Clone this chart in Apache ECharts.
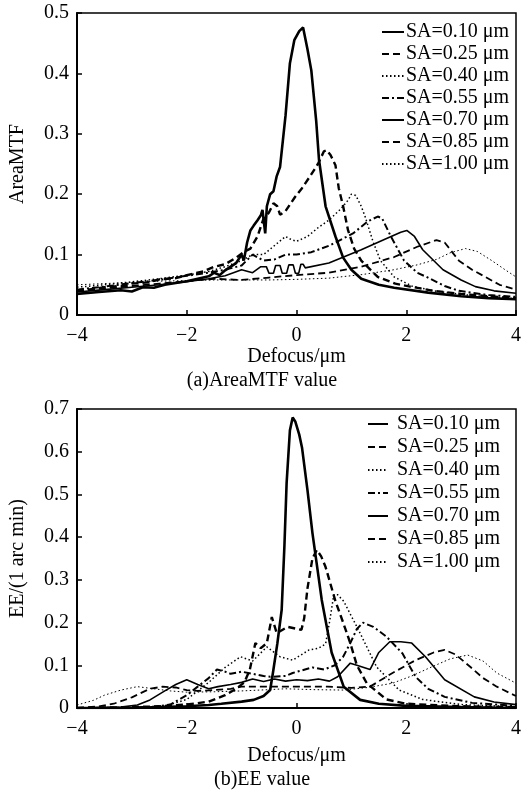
<!DOCTYPE html>
<html>
<head>
<meta charset="utf-8">
<script src="https://cdn.jsdelivr.net/npm/echarts@6/dist/echarts.min.js"></script>
<style>html,body{margin:0;padding:0;background:#fff}#c{width:524px;height:793px}</style>
</head>
<body>
<div id="c"></div>
<script>
const seriesNames = ['SA=0.10 μm','SA=0.25 μm','SA=0.40 μm','SA=0.55 μm','SA=0.70 μm','SA=0.85 μm','SA=1.00 μm'];
const xTicks = [-4,-2,0,2,4];
const mtfTicks = [0,0.1,0.2,0.3,0.4,0.5];
const eeTicks = [0,0.1,0.2,0.3,0.4,0.5,0.6,0.7];

// (a) AreaMTF curves [defocus, value]
const mtf_sa010 = [[-4,0.035],[-3.6,0.038],[-3.2,0.041],[-3.0,0.039],[-2.8,0.046],[-2.6,0.045],[-2.4,0.05],[-2.2,0.053],[-2.0,0.056],[-1.8,0.06],[-1.6,0.064],[-1.5,0.07],[-1.4,0.066],[-1.3,0.074],[-1.2,0.08],[-1.1,0.086],[-1.0,0.1],[-0.96,0.09],[-0.9,0.12],[-0.84,0.14],[-0.78,0.148],[-0.71,0.157],[-0.65,0.165],[-0.62,0.174],[-0.57,0.135],[-0.54,0.18],[-0.48,0.2],[-0.42,0.205],[-0.36,0.23],[-0.3,0.245],[-0.2,0.33],[-0.12,0.417],[-0.04,0.455],[0.05,0.47],[0.12,0.476],[0.2,0.44],[0.27,0.405],[0.36,0.32],[0.41,0.257],[0.53,0.18],[0.71,0.13],[0.85,0.095],[1.0,0.075],[1.18,0.06],[1.5,0.05],[1.78,0.045],[2.4,0.037],[3.0,0.031],[3.5,0.028],[4,0.026]];
const mtf_sa025 = [[-4,0.04],[-3.7,0.043],[-3.5,0.046],[-3.2,0.048],[-3.0,0.052],[-2.7,0.054],[-2.5,0.059],[-2.2,0.061],[-2.0,0.066],[-1.7,0.072],[-1.5,0.08],[-1.3,0.084],[-1.1,0.095],[-0.95,0.105],[-0.84,0.11],[-0.71,0.13],[-0.6,0.16],[-0.5,0.17],[-0.42,0.185],[-0.35,0.18],[-0.3,0.166],[-0.2,0.172],[-0.03,0.195],[0.1,0.21],[0.25,0.23],[0.39,0.25],[0.5,0.271],[0.55,0.273],[0.62,0.265],[0.71,0.248],[0.77,0.21],[0.85,0.18],[0.94,0.14],[1.05,0.11],[1.18,0.09],[1.48,0.063],[1.8,0.052],[2.07,0.047],[2.5,0.04],[3,0.035],[3.5,0.031],[4,0.028]];
const mtf_sa040 = [[-4,0.046],[-3.5,0.05],[-3,0.055],[-2.5,0.06],[-2,0.066],[-1.6,0.072],[-1.3,0.08],[-1.0,0.09],[-0.8,0.1],[-0.6,0.1],[-0.4,0.115],[-0.2,0.13],[-0.1,0.125],[0,0.122],[0.2,0.13],[0.4,0.145],[0.59,0.157],[0.8,0.175],[0.94,0.19],[1.0,0.2],[1.08,0.198],[1.18,0.18],[1.25,0.163],[1.4,0.12],[1.53,0.09],[1.78,0.063],[2.1,0.048],[2.5,0.04],[3,0.034],[3.5,0.03],[4,0.027]];
const mtf_sa055 = [[-4,0.042],[-3.5,0.047],[-3,0.053],[-2.5,0.058],[-2,0.065],[-1.6,0.07],[-1.3,0.075],[-1.0,0.082],[-0.8,0.1],[-0.6,0.09],[-0.4,0.092],[-0.2,0.1],[0,0.1],[0.27,0.104],[0.6,0.115],[1.03,0.135],[1.3,0.155],[1.48,0.163],[1.56,0.16],[1.72,0.13],[1.96,0.09],[2.2,0.07],[2.37,0.063],[2.7,0.048],[2.96,0.04],[3.5,0.033],[4,0.03]];
const mtf_sa070 = [[-4,0.038],[-3.5,0.042],[-3,0.046],[-2.5,0.05],[-2,0.055],[-1.6,0.06],[-1.3,0.065],[-1.0,0.075],[-0.8,0.07],[-0.65,0.08],[-0.55,0.08],[-0.5,0.069],[-0.42,0.069],[-0.38,0.082],[-0.3,0.082],[-0.26,0.069],[-0.18,0.069],[-0.14,0.083],[-0.06,0.083],[-0.02,0.069],[0.04,0.069],[0.08,0.084],[0.12,0.084],[0.16,0.078],[0.59,0.086],[1.18,0.108],[1.6,0.125],[1.9,0.137],[2.01,0.14],[2.15,0.13],[2.3,0.108],[2.67,0.075],[3.0,0.058],[3.26,0.047],[3.6,0.04],[4,0.036]];
const mtf_sa085 = [[-4,0.04],[-3.5,0.044],[-3,0.048],[-2.5,0.052],[-2,0.056],[-1.5,0.06],[-1.0,0.058],[-0.5,0.062],[0,0.066],[0.59,0.07],[1.18,0.08],[1.78,0.096],[2.2,0.113],[2.55,0.124],[2.7,0.12],[2.96,0.09],[3.2,0.075],[3.44,0.063],[3.7,0.05],[4,0.042]];
const mtf_sa100 = [[-4,0.05],[-3.5,0.052],[-3,0.054],[-2.5,0.056],[-2,0.057],[-1.5,0.058],[-1,0.058],[-0.5,0.058],[0,0.059],[0.59,0.061],[1.2,0.067],[1.78,0.075],[2.2,0.083],[2.55,0.092],[2.8,0.103],[3.08,0.11],[3.3,0.105],[3.56,0.09],[3.8,0.075],[4,0.063]];

// (b) EE curves [defocus, value]
const ee_sa010 = [[-4,0],[-3,0],[-2.5,0.002],[-2,0.004],[-1.6,0.007],[-1.37,0.01],[-1.0,0.015],[-0.78,0.019],[-0.6,0.028],[-0.48,0.042],[-0.43,0.082],[-0.35,0.15],[-0.27,0.23],[-0.22,0.38],[-0.18,0.527],[-0.12,0.65],[-0.07,0.68],[-0.02,0.67],[0.05,0.64],[0.1,0.61],[0.2,0.51],[0.29,0.41],[0.46,0.253],[0.64,0.13],[0.86,0.05],[1.16,0.019],[1.5,0.01],[2,0.005],[3,0.002],[4,0]];
const ee_sa025 = [[-4,0],[-3,0.002],[-2.5,0.004],[-2,0.008],[-1.6,0.015],[-1.3,0.03],[-1.1,0.045],[-0.95,0.06],[-0.85,0.09],[-0.75,0.152],[-0.65,0.14],[-0.54,0.152],[-0.45,0.213],[-0.36,0.175],[-0.16,0.19],[0.09,0.183],[0.14,0.21],[0.2,0.28],[0.29,0.35],[0.37,0.37],[0.45,0.355],[0.53,0.33],[0.71,0.25],[0.85,0.2],[0.98,0.152],[1.1,0.1],[1.28,0.058],[1.64,0.02],[2,0.01],[3,0.004],[4,0.002]];
const ee_sa040 = [[-4,0],[-3,0.001],[-2.44,0.003],[-2,0.02],[-1.6,0.06],[-1.3,0.095],[-1.02,0.12],[-0.8,0.11],[-0.54,0.143],[-0.3,0.12],[-0.07,0.112],[0.23,0.136],[0.4,0.14],[0.53,0.15],[0.6,0.2],[0.68,0.265],[0.75,0.265],[0.86,0.25],[1.16,0.175],[1.46,0.096],[1.87,0.042],[2.3,0.02],[3,0.008],[4,0.003]];
const ee_sa055 = [[-4,0],[-3,0.001],[-2.6,0.003],[-2.3,0.008],[-2,0.03],[-1.8,0.05],[-1.6,0.07],[-1.45,0.09],[-1.3,0.085],[-1.2,0.08],[-1.0,0.085],[-0.8,0.08],[-0.6,0.075],[-0.48,0.073],[-0.2,0.075],[-0.07,0.082],[0.29,0.095],[0.5,0.09],[0.7,0.1],[0.85,0.12],[0.98,0.152],[1.1,0.185],[1.21,0.2],[1.4,0.19],[1.64,0.167],[1.93,0.128],[2.17,0.073],[2.4,0.045],[2.7,0.026],[3.2,0.012],[4,0.005]];
const ee_sa070 = [[-4,0],[-3.2,0.002],[-2.9,0.007],[-2.67,0.019],[-2.4,0.04],[-2.2,0.055],[-2.0,0.066],[-1.8,0.055],[-1.6,0.045],[-1.43,0.05],[-1.2,0.055],[-1.0,0.06],[-0.8,0.068],[-0.6,0.062],[-0.4,0.068],[-0.2,0.063],[0,0.066],[0.2,0.064],[0.4,0.068],[0.6,0.063],[0.75,0.073],[0.98,0.105],[1.1,0.1],[1.34,0.09],[1.5,0.13],[1.7,0.155],[1.9,0.155],[2.1,0.152],[2.35,0.12],[2.7,0.066],[3.24,0.026],[3.6,0.014],[4,0.008]];
const ee_sa085 = [[-4,0],[-3.6,0.004],[-3.33,0.01],[-3,0.025],[-2.67,0.045],[-2.44,0.05],[-2.2,0.048],[-2,0.042],[-1.8,0.04],[-1.5,0.042],[-1.2,0.045],[-1,0.05],[-0.5,0.05],[0,0.05],[0.57,0.05],[1.0,0.047],[1.34,0.05],[1.75,0.082],[2.17,0.112],[2.5,0.13],[2.7,0.136],[2.9,0.125],[3.17,0.096],[3.4,0.07],[3.65,0.05],[4,0.028]];
const ee_sa100 = [[-4,0.007],[-3.7,0.018],[-3.5,0.03],[-3.2,0.042],[-2.9,0.05],[-2.6,0.045],[-2.3,0.04],[-2,0.037],[-1.5,0.038],[-1,0.04],[-0.5,0.043],[-0.2,0.045],[0.3,0.043],[0.86,0.042],[1.3,0.048],[1.75,0.058],[2.1,0.075],[2.46,0.096],[2.8,0.115],[3.12,0.124],[3.4,0.11],[3.65,0.082],[4,0.058]];

const mtfData = [mtf_sa010, mtf_sa025, mtf_sa040, mtf_sa055, mtf_sa070, mtf_sa085, mtf_sa100];
const eeData = [ee_sa010, ee_sa025, ee_sa040, ee_sa055, ee_sa070, ee_sa085, ee_sa100];

const styles = [
  {width:2.6, type:'solid'},
  {width:2.4, type:[7,4]},
  {width:1.5, type:[1.5,2.5]},
  {width:2.0, type:[7,3,2,3]},
  {width:1.6, type:'solid'},
  {width:1.8, type:[7,4]},
  {width:1.0, type:[1.5,2.5]}
];

const FONT = '"Liberation Serif", "DejaVu Serif", serif';
const FS = 20;
const minus = v => String(v).replace('-', '\u2212');

function xAxis(gi, gap) {
  return {
    type:'value', gridIndex:gi, min:-4, max:4, interval:2,
    name:'Defocus/μm', nameLocation:'middle', nameGap:gap,
    nameTextStyle:{fontFamily:FONT, fontSize:FS, color:'#000'},
    axisLine:{onZero:false, lineStyle:{color:'#000', width:2}},
    axisTick:{inside:true, length:5, lineStyle:{color:'#000', width:1.5}},
    axisLabel:{fontFamily:FONT, fontSize:FS, color:'#000', margin:11, formatter:minus},
    splitLine:{show:false}
  };
}
function yAxis(gi, max, name) {
  return {
    type:'value', gridIndex:gi, min:0, max:max, interval:0.1,
    name:name, nameLocation:'middle', nameGap:49, nameRotate:90,
    nameTextStyle:{fontFamily:FONT, fontSize:FS, color:'#000'},
    axisLine:{onZero:false, lineStyle:{color:'#000', width:2}},
    axisTick:{inside:true, length:5, lineStyle:{color:'#000', width:1.5}},
    axisLabel:{fontFamily:FONT, fontSize:FS, color:'#000', margin:8,
      formatter: v => (Math.round(v*10)/10).toString()},
    splitLine:{show:false}
  };
}

const series = [];
seriesNames.forEach((n,i) => {
  series.push({name:n, type:'line', xAxisIndex:0, yAxisIndex:0, data:mtfData[i], showSymbol:false, symbol:'none',
    lineStyle:{color:'#000', width:styles[i].width, type:styles[i].type}, itemStyle:{color:'#000'}, animation:false, z:10-i});
  series.push({name:n, type:'line', xAxisIndex:1, yAxisIndex:1, data:eeData[i], showSymbol:false, symbol:'none',
    lineStyle:{color:'#000', width:styles[i].width, type:styles[i].type}, itemStyle:{color:'#000'}, animation:false, z:10-i});
});

const legendItem = {color:'transparent', borderColor:'transparent', borderWidth:0};

const chart = echarts.init(document.getElementById('c'), null, {renderer:'canvas'});
chart.setOption({
  backgroundColor:'#fff',
  animation:false,
  grid:[
    {left:71, top:13, right:3, height:302, show:true, borderColor:'#000', borderWidth:1.5, backgroundColor:'transparent'},
    {left:71, top:409, right:3, height:299, show:true, borderColor:'#000', borderWidth:1.5, backgroundColor:'transparent'}
  ],
  xAxis:[xAxis(0, 31), xAxis(1, 38)],
  yAxis:[yAxis(0, 0.5, 'AreaMTF'), yAxis(1, 0.7, 'EE/(1 arc min)')],
  legend:[
    {orient:'vertical', left:379, top:21, itemWidth:22, itemHeight:12, itemGap:0,
     data:seriesNames, selectedMode:false, backgroundColor:'#fff', padding:[0,2,2,2],
     itemStyle:legendItem,
     textStyle:{fontFamily:FONT, fontSize:FS, color:'#000', lineHeight:22, padding:[0,0,0,-3]}},
    {orient:'vertical', left:365, top:413, itemWidth:20, itemHeight:12, itemGap:1,
     data:seriesNames, selectedMode:false, padding:[0,2,2,2],
     itemStyle:legendItem,
     textStyle:{fontFamily:FONT, fontSize:FS, color:'#000', lineHeight:22, padding:[0,0,0,4]}}
  ],
  graphic:[
    {type:'text', left:'center', top:371, style:{text:'(a)AreaMTF value', font:'20px "Liberation Serif"', fill:'#000'}},
    {type:'text', left:'center', top:770, style:{text:'(b)EE value', font:'20px "Liberation Serif"', fill:'#000'}}
  ],
  series:series
});
</script>
</body>
</html>
